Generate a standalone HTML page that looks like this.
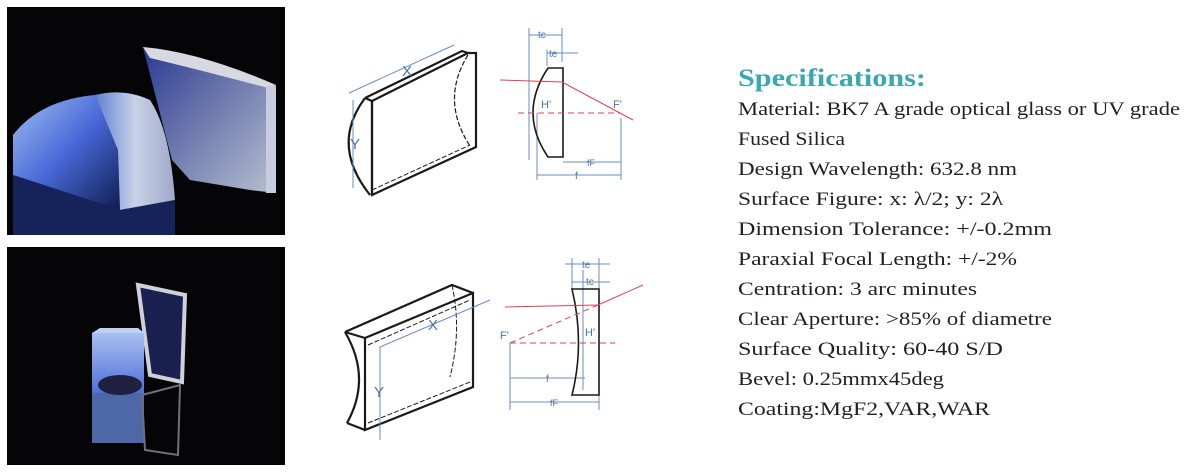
<!DOCTYPE html>
<html><head><meta charset="utf-8"><style>
html,body{margin:0;padding:0;background:#fff;width:1187px;height:474px;overflow:hidden}
svg{display:block}
.b{font-family:"Liberation Serif",serif;font-size:19px;fill:#231f20}
.d{font-family:"Liberation Sans",sans-serif;fill:#4a74a8}
</style></head><body>
<svg width="1187" height="474" viewBox="0 0 1187 474" xmlns="http://www.w3.org/2000/svg">
<defs>
<linearGradient id="g1" x1="0" y1="0" x2="1" y2="1"><stop offset="0" stop-color="#a0bff0"/><stop offset="0.5" stop-color="#4868d8"/><stop offset="1" stop-color="#101c50"/></linearGradient>
<linearGradient id="g2" x1="0" y1="0" x2="1" y2="0"><stop offset="0" stop-color="#6080d0"/><stop offset="0.5" stop-color="#c8d2e8"/><stop offset="1" stop-color="#a0a8c8"/></linearGradient>
<linearGradient id="g3" x1="0" y1="0" x2="1" y2="1"><stop offset="0" stop-color="#2a3a90"/><stop offset="1" stop-color="#b8c0d0"/></linearGradient>
<linearGradient id="g4" x1="0" y1="0" x2="0" y2="1"><stop offset="0" stop-color="#a8c0f0"/><stop offset="1" stop-color="#5070d8"/></linearGradient>
</defs>
<!-- photo 1 -->
<rect x="7" y="7" width="278" height="228" fill="#050508"/>
<path d="M143,47 L276,85 L276,193 L250,190 L190,180 L172,160 Z" fill="url(#g3)"/>
<path d="M143,47 Q200,52 276,85 L268,88 Q200,70 150,58 Z" fill="#d8d8e0"/>
<rect x="266" y="86" width="10" height="107" fill="#c8cce0"/>
<path d="M13,135 Q40,100 95,95 L118,150 L120,210 L13,175 Z" fill="url(#g1)"/>
<path d="M95,95 Q125,88 150,100 Q170,130 175,200 L120,210 L118,150 Z" fill="url(#g2)"/>
<path d="M13,175 L120,210 L175,200 L175,235 L13,235 Z" fill="#1a2a70" opacity="0.8"/>
<!-- photo 2 -->
<rect x="7" y="247" width="278" height="218" fill="#050508"/>
<path d="M138,285 L185,295 L182,382 L150,375 Z" fill="#1a2050" stroke="#d0d0d8" stroke-width="4"/>
<rect x="92" y="333" width="52" height="60" fill="url(#g4)"/>
<path d="M92,333 L100,328 L138,328 L144,333 Z" fill="#c0d0f0"/>
<rect x="92" y="393" width="52" height="50" fill="#6080d0" opacity="0.8"/>
<ellipse cx="120" cy="385" rx="22" ry="10" fill="#202040"/>
<path d="M142,395 L180,385 L178,455 L145,450 Z" fill="none" stroke="#707078" stroke-width="2"/>
<!-- top diagram -->
<g fill="none" stroke="#1a1a1a" stroke-width="2.2">
<path d="M372,101 L468,53 L476,53 L476,147 L372,195 Z"/>
<path d="M372,101 L372,195"/>
<path d="M365,98 L372,101 M365,98 Q330,145 370,195"/>
<path d="M365,98 L462,51 L468,53"/>
</g>
<path d="M468,55 Q440,100 470,146" fill="none" stroke="#1a1a1a" stroke-width="1.2" stroke-dasharray="5,2"/>
<path d="M372,190 L470,145" fill="none" stroke="#1a1a1a" stroke-width="1" stroke-dasharray="5,2"/>
<g stroke="#6a8cc0" stroke-width="1" fill="none">
<path d="M349,93 L454,45"/><path d="M353,100 L353,188"/>
<path d="M529,28 L529,160 M562,28 L562,62 M547,50 L547,66"/>
<path d="M529,35 L562,35 M547,53 L578,53"/>
<path d="M537,113 L537,180 M621,118 L621,180"/>
<path d="M563,162 L621,162 M537,175 L621,175"/>
</g>
<text x="402" y="76" class="d" font-size="15">X</text>
<text x="350" y="149" class="d" font-size="15">Y</text>
<text x="538" y="38" class="d" font-size="10">tc</text>
<text x="549" y="57" class="d" font-size="10">te</text>
<text x="541" y="108" class="d" font-size="11">H'</text>
<text x="613" y="108" class="d" font-size="11">F'</text>
<text x="587" y="166" class="d" font-size="9">fF</text>
<text x="575" y="179" class="d" font-size="10">f</text>
<path d="M563,68 L548,68 Q518,113 548,157 L563,157 Z" fill="none" stroke="#1a1a1a" stroke-width="1.6"/>
<path d="M500,80 L562,82 L633,120" fill="none" stroke="#e04050" stroke-width="1"/>
<path d="M518,113 L620,113" stroke="#e04050" stroke-width="1" stroke-dasharray="6,4"/>
<!-- bottom diagram -->
<g fill="none" stroke="#1a1a1a" stroke-width="2.2">
<path d="M365,338 L473,293 L473,387 L365,430 Z"/>
<path d="M345,332 L452,285 L473,293 M345,332 L365,338 M347,423 L365,430"/>
<path d="M345,332 Q372,378 347,423"/>
</g>
<path d="M452,285 Q462,330 450,377 M368,423 L470,382 M368,345 L470,300" fill="none" stroke="#1a1a1a" stroke-width="1" stroke-dasharray="5,2"/>
<g stroke="#6a8cc0" stroke-width="1" fill="none">
<path d="M380,347 L490,300 M380,347 L380,440"/>
<path d="M572,258 L572,290 M583,270 L583,390 M599,258 L599,290"/>
<path d="M565,264 L610,264 M572,282 L610,282"/>
<path d="M510,343 L510,410 M599,395 L599,410"/>
<path d="M510,378 L585,378 M510,402 L599,402"/>
</g>
<text x="428" y="330" class="d" font-size="15">X</text>
<text x="374" y="397" class="d" font-size="15">Y</text>
<text x="582" y="268" class="d" font-size="10">te</text>
<text x="586" y="285" class="d" font-size="10">tc</text>
<text x="500" y="339" class="d" font-size="11">F'</text>
<text x="585" y="336" class="d" font-size="11">H'</text>
<text x="546" y="382" class="d" font-size="10">f</text>
<text x="550" y="406" class="d" font-size="9">fF</text>
<path d="M572,289 L599,289 L599,395 L572,395 Q585,343 572,289 Z" fill="none" stroke="#1a1a1a" stroke-width="1.6"/>
<path d="M505,307 L598,305 L643,285" fill="none" stroke="#e04050" stroke-width="1"/>
<path d="M510,343 L598,305 M510,343 L615,343" stroke="#e04050" stroke-width="1" stroke-dasharray="6,4"/>
<!-- text -->
<text x="738" y="86" font-family="'Liberation Serif',serif" font-weight="bold" font-size="25" fill="#3aa8b0" textLength="188" lengthAdjust="spacingAndGlyphs">Specifications:</text>
<text x="738" y="115" class="b" textLength="442" lengthAdjust="spacingAndGlyphs">Material: BK7 A grade optical glass or UV grade</text>
<text x="738" y="145" class="b" textLength="107" lengthAdjust="spacingAndGlyphs">Fused Silica</text>
<text x="738" y="175" class="b" textLength="279" lengthAdjust="spacingAndGlyphs">Design Wavelength: 632.8 nm</text>
<text x="738" y="205" class="b" textLength="265" lengthAdjust="spacingAndGlyphs">Surface Figure: x: λ/2; y: 2λ</text>
<text x="738" y="235" class="b" textLength="314" lengthAdjust="spacingAndGlyphs">Dimension Tolerance: +/-0.2mm</text>
<text x="738" y="265" class="b" textLength="279" lengthAdjust="spacingAndGlyphs">Paraxial Focal Length: +/-2%</text>
<text x="738" y="295" class="b" textLength="239" lengthAdjust="spacingAndGlyphs">Centration: 3 arc minutes</text>
<text x="738" y="325" class="b" textLength="314" lengthAdjust="spacingAndGlyphs">Clear Aperture: &gt;85% of diametre</text>
<text x="738" y="355" class="b" textLength="265" lengthAdjust="spacingAndGlyphs">Surface Quality: 60-40 S/D</text>
<text x="738" y="385" class="b" textLength="206" lengthAdjust="spacingAndGlyphs">Bevel: 0.25mmx45deg</text>
<text x="738" y="415" class="b" textLength="252" lengthAdjust="spacingAndGlyphs">Coating:MgF2,VAR,WAR</text>
</svg>
</body></html>
